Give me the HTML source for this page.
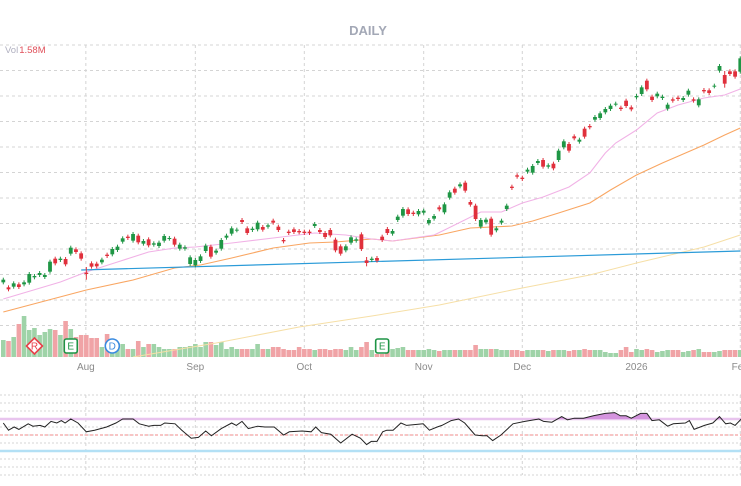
<!DOCTYPE html>
<html><head><meta charset="utf-8"><style>
html,body{margin:0;padding:0;background:#fff;width:741px;height:486px;overflow:hidden}
svg{display:block}
text{font-family:"Liberation Sans",sans-serif}
</style></head><body>
<svg id="chart" width="741" height="486" viewBox="0 0 741 486">
<text x="368" y="35" text-anchor="middle" font-size="13" font-weight="bold" fill="#a3a8b6">DAILY</text>
<g id="grid"></g>
<g id="mains"></g>
<g id="rsiP"></g>
<text x="5" y="53" font-size="9.5"><tspan fill="#b0b0c0">Vol</tspan><tspan fill="#e0505a" dx="1">1.58M</tspan></text>
</svg>
<script>
const mids=[30.7,28.5,29.5,29.3,30.0,31.5,32.0,32.8,32.2,35.0,
36.7,37.2,36.5,39.8,39.8,38.2,33.0,35.5,35.5,36.7,
38.4,39.5,40.5,43.0,43.8,43.8,43.3,42.3,42.3,41.8,
41.7,43.5,43.5,42.5,41.0,40.6,36.8,36.2,37.4,40.5,
39.5,39.5,41.7,44.0,45.7,46.0,48.7,45.8,46.2,47.2,
46.5,47.2,48.5,46.5,42.8,45.3,45.8,45.5,45.3,45.3,
47.5,45.7,44.5,45.2,41.5,40.0,40.5,43.0,43.0,42.5,
36.5,
37.2,37.2,43.5,45.7,45.3,49.5,51.3,51.5,51.0,51.2,
51.5,48.5,49.8,52.5,52.5,56.5,57.8,59.4,59.0,54.0,
51.3,48.0,48.7,47.0,46.2,48.5,52.8,58.8,62.2,61.5,
63.8,64.2,66.4,66.0,65.2,65.2,68.4,71.7,70.8,73.8,
72.8,75.2,77.0,79.5,80.3,81.8,82.8,83.8,82.5,84.0,
82.5,86.0,87.8,89.5,85.5,86.5,85.8,83.0,85.0,85.5,
85.3,87.2,85.0,84.3,87.8,87.5,89.2,94.5,91.2,93.2,
92.8,95.5];
const bodies=[0.8,-0.6,1.0,-0.8,0.6,2.6,0.4,0.6,0.6,3.0,
-1.4,0.4,-1.6,1.8,-0.8,-1.6,-0.4,-1.0,-0.8,0.8,
-0.4,1.6,1.0,1.0,-0.4,2.0,-2.0,0.8,-1.8,0.4,
1.0,1.4,0.2,-1.8,1.2,0.4,2.0,1.6,1.4,1.6,
-3.0,0.6,2.6,0.6,1.6,0.2,-0.6,-1.4,0.4,2.0,
-0.8,0.4,-0.6,-1.0,-0.4,-0.4,-0.8,-0.4,-0.4,-0.4,
0.6,-0.6,-1.2,-1.6,-3.2,-2.2,1.2,1.6,0.4,-4.4,
-0.8,
0.4,-0.8,-1.0,-1.2,0.8,1.0,2.0,-1.4,-0.4,1.0,
0.6,1.0,0.8,-0.6,2.4,1.6,-1.2,0.6,-2.4,-0.8,
-4.0,2.0,0.8,-4.8,0.6,0.6,1.0,-0.4,-0.4,-0.4,
0.6,2.0,0.6,-2.0,0.4,-1.4,2.8,1.8,-2.0,-0.6,
0.6,-2.4,-0.4,0.8,1.4,1.0,1.0,0.2,-0.4,-1.6,
-0.6,0.4,2.0,-2.6,-1.0,0.8,0.4,1.2,-0.4,-0.4,
0.6,1.2,-0.4,1.8,-0.4,-0.8,0.2,1.4,-2.6,-0.8,
-1.6,4.0];
const wicks=[0.6,0.6,0.6,0.6,0.6,0.6,0.6,0.6,0.6,0.6,
0.6,0.6,0.6,0.6,0.6,0.6,1.7,0.6,0.6,0.6,
0.6,0.6,0.6,0.6,0.6,0.6,0.6,0.6,0.6,0.6,
0.6,0.6,0.6,0.6,0.6,0.6,0.6,0.6,0.6,0.6,
0.6,0.6,0.6,0.6,0.6,0.6,0.6,0.6,0.6,0.6,
0.6,0.6,0.6,0.6,0.6,0.6,0.6,0.6,0.6,0.6,
0.6,0.6,0.6,0.6,0.6,0.6,0.6,0.6,0.6,0.6,
1.0,
0.6,0.6,0.6,0.6,0.6,0.6,0.6,0.6,0.6,0.6,
0.6,0.6,0.6,0.6,0.6,0.6,0.6,0.6,0.6,0.6,
0.6,0.6,0.6,0.6,0.6,0.6,0.6,0.6,0.6,0.6,
0.6,0.6,0.6,0.6,0.6,0.6,0.6,0.6,0.6,0.6,
0.6,0.6,0.6,0.6,0.6,0.6,0.6,0.6,0.6,0.6,
0.6,0.6,0.6,0.6,0.6,0.6,0.6,0.6,0.6,0.6,
0.6,0.6,0.6,0.6,0.6,0.6,0.6,0.6,1.2,0.6,
0.6,0.6];
const volumes=[17,16,20,33,41,27,29,22,25,28,27,22,36,28,20,22,22,19,19,10,23,10,14,13,8,8,16,10,13,13,10,8,8,8,10,10,11,13,10,15,15,12,15,8,10,8,8,8,8,13,8,8,10,10,8,7,7,10,8,8,7,8,8,7,8,8,7,10,7,10,15,
7,3,3,7,8,9,10,7,7,7,7,8,7,6,7,7,7,7,7,7,12,8,8,8,8,7,7,7,7,6,7,7,7,7,6,7,7,7,6,7,7,8,7,7,7,5,4,4,7,10,5,8,7,8,7,5,6,7,7,7,5,6,7,8,5,5,5,6,7,7,7,7];
const ma20Idx=[0,11,16,22,28,33,37,44,52,60,66,71,75,83,85,92,96,100,104,109,113,116,118,122,126,130,135,139,142];
const ma20Val=[25.3,30.4,33.4,36.4,39.4,40.6,40.9,42.1,43.6,45.1,44.5,43.3,42.7,44.5,46.0,51.4,51.4,54.1,55.9,58.9,63.1,69.1,72.1,76.0,81.1,83.5,85.6,86.5,88.3];
const ma50Idx=[0,16,25,33,38,44,52,59,64,71,75,84,90,98,102,107,113,117,122,127,135,139,142];
const ma50Val=[21.4,28.0,31.0,34.6,35.5,37.6,40.6,42.1,42.4,43.3,42.7,44.5,46.6,47.2,48.7,51.1,54.1,58.0,62.5,66.1,71.5,74.5,76.6];
const ma200Idx=[25,41,57,71,84,98,113,122,135,142];
const ma200Val=[7.9,12.1,16.9,20.2,23.5,28.0,32.5,36.1,40.9,44.5];
const trendIdx=[15,142];
const trendVal=[34.0,39.7];
const rsiIdx=[0,1,2.1,3,4.8,5.7,7.1,8,9.2,10.3,11.2,11.9,13,14.4,16,17.6,19.9,21.7,23,25,26.2,28,29,30.3,31.1,33.1,34.4,36.2,37.6,39,40.1,42,44,44.9,46,47.2,49,50.4,52.2,54,55.1,57.6,59.3,60.2,61.3,63.1,65,67.2,68.8,70,70.9,72,73.1,73.9,75.1,76.6,77.7,80.9,82.1,83.6,84.5,86.3,87.7,88.9,90.9,92.3,93.2,94.3,95.9,98.2,100.5,103.2,104.1,105.7,107.6,108.7,110,111.8,113.7,116,117.8,118.9,120,121,122.8,124,125,126.4,128,129.1,131.4,132.2,133.1,135.1,136.7,138,139.2,140.1,141,142.2];
const rsiVal=[65,56,60,57,64,61,62,60,67,65,68,65,70,65,54,56,60,65,70,70,64,61,62,62,65,64,56,46,47,55,49,58,65,62,67,58,61,60,60,50,54,55,54,60,53,51,40,51,46,38,42,42,54,56,56,65,62,64,56,60,62,68,70,65,50,49,49,43,50,64,67,70,67,66,73,69,71,71,74,77,78,74,74,71,77,77,68,69,61,64,65,68,57,62,65,73,64,65,62,70];
const monthLabels=["Aug","Sep","Oct","Nov","Dec","2026","Feb"];
const monthIdx=[16,37,58,81,100,122,142];
const events=[{t:"R",i:6,s:"diamond"},{t:"E",i:13,s:"square"},{t:"D",i:21,s:"circle"},{t:"E",i:73,s:"square"}];

const NS="http://www.w3.org/2000/svg";
function el(tag,attrs,parent){const e=document.createElementNS(NS,tag);for(const k in attrs)e.setAttribute(k,attrs[k]);parent.appendChild(e);return e;}
const xS=i=>3.3+i*5.19;
const yP=p=>(1150-10*p)/3;
const yV=v=>357-v;
const yR=r=>435-(r-50)*0.8;
const GREEN="#1f9645",RED="#e0303c";

const grid=document.getElementById('grid');
for(let k=0;k<12;k++){const y=45+k*25.5;
const g=el('line',{x1:0,x2:741,y1:y,y2:y,stroke:"#d4d4d4","stroke-dasharray":"3,3","stroke-width":1},grid);
}
for(let k=0;k<11;k++){const y=395+k*8;
const g=el('line',{x1:0,x2:741,y1:y,y2:y,stroke:"#d4d4d4","stroke-dasharray":"2,2","stroke-width":1},grid);
}
monthIdx.forEach((mi,k)=>{const x=xS(mi)-0.5*(k==0?1:0);
const v1=el('line',{x1:x,x2:x,y1:45,y2:357,stroke:"#d4d4d4","stroke-dasharray":"3,3"},grid);

const v2=el('line',{x1:x,x2:x,y1:395,y2:475,stroke:"#d4d4d4","stroke-dasharray":"3,3"},grid);

const t=el('text',{x:x,y:370,"text-anchor":"middle","font-size":10,fill:"#8a8a8a"},grid);t.textContent=monthLabels[k];
});

const main=document.getElementById('mains');
el('clipPath',{id:"mclip"},main).appendChild(Object.assign(document.createElementNS(NS,'rect'),{}));
document.querySelector('#mclip rect').setAttribute('x',0);document.querySelector('#mclip rect').setAttribute('y',40);
document.querySelector('#mclip rect').setAttribute('width',741);document.querySelector('#mclip rect').setAttribute('height',317);
const vg=el('g',{},main);
volumes.forEach((v,i)=>{const up=bodies[i]>=0;
const r=el('rect',{x:xS(i)-2.3,y:yV(v),width:4.6,height:v,fill:up?"#9fd3a8":"#f0a3a6"},vg);
});
const lg=el('g',{"clip-path":"url(#mclip)"},main);
function line(idx,val,color,w,name){const d=idx.map((i,k)=>(k?'L':'M')+xS(i).toFixed(1)+','+yP(val[k]).toFixed(1)).join('');
const p=el('path',{d:d,fill:"none",stroke:color,"stroke-width":w},lg);}
line(ma200Idx,ma200Val,"#f6dfa6",1,"ma200-line");
line(ma50Idx,ma50Val,"#f9a662",1.1,"ma50-line");
line(ma20Idx,ma20Val,"#f1b2e6",1.1,"ma20-line");
line(trendIdx,trendVal,"#2b9bd8",1.2,"trend-line");
const cg=el('g',{},main);
mids.forEach((m,i)=>{const b=bodies[i],up=b>=0,c=up?GREEN:RED,x=xS(i);
const top=m+Math.abs(b)/2,bot=m-Math.abs(b)/2;
const w=el('line',{x1:x,x2:x,y1:yP(top+wicks[i]),y2:yP(bot-wicks[i]),stroke:c,"stroke-width":1},cg);

const r=el('rect',{x:x-1.9,y:yP(top),width:3.8,height:Math.max(1,yP(bot)-yP(top)),fill:c},cg);
});
events.forEach(ev=>{const x=xS(ev.i),y=346;const g=el('g',{},main);

let col;
if(ev.s=="diamond"){col="#e8404a";el('polygon',{points:`${x},${y-8} ${x+8},${y} ${x},${y+8} ${x-8},${y}`,fill:"#fff",stroke:col,"stroke-width":1.6},g);}
else if(ev.s=="square"){col="#1d9445";el('rect',{x:x-6.5,y:y-7,width:13,height:14,rx:2,fill:"#fff",stroke:col,"stroke-width":1.6},g);}
else {col="#3a8be0";el('circle',{cx:x,cy:y,r:7,fill:"#fff",stroke:col,"stroke-width":1.6},g);}
const t=el('text',{x:x,y:y+3.6,"text-anchor":"middle","font-size":10,fill:col},g);t.textContent=ev.t;});

const rp=document.getElementById('rsiP');
const l70=el('line',{x1:0,x2:741,y1:yR(70),y2:yR(70),stroke:"#e8c4ee","stroke-width":2.5},rp);

const l30=el('line',{x1:0,x2:741,y1:yR(30),y2:yR(30),stroke:"#b3e0f5","stroke-width":2.5},rp);

const l50=el('line',{x1:0,x2:741,y1:yR(50),y2:yR(50),stroke:"#f08a8a","stroke-dasharray":"3,2","stroke-width":1},rp);

el('clipPath',{id:"rclip"},rp);
el('rect',{x:0,y:380,width:741,height:yR(70)-380},document.getElementById('rclip'));
const rd=rsiIdx.map((i,k)=>(k?'L':'M')+xS(i).toFixed(1)+','+yR(rsiVal[k]).toFixed(1)).join('');
const fill=el('path',{d:rd+`L${xS(rsiIdx[rsiIdx.length-1])},${yR(70)}L${xS(rsiIdx[0])},${yR(70)}Z`,fill:"#d494de","clip-path":"url(#rclip)"},rp);

const rl=el('path',{d:rd,fill:"none",stroke:"#222","stroke-width":1},rp);

</script>
</body></html>
